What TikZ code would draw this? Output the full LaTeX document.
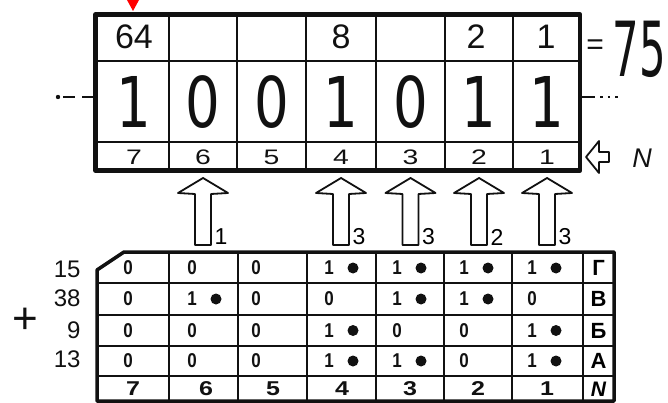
\documentclass[tikz,border=0pt]{standalone}
\usepackage{fontspec}
\usepackage{graphicx}
\setmainfont{Liberation Sans}
\newfontfamily\bigdigit{DejaVu Sans}
\usetikzlibrary{positioning, calc}
\definecolor{Ink}{HTML}{111111}

\begin{document}
\begin{tikzpicture}[x=1pt, y=-1pt, line join=round,
    regframe/.style={draw=Ink, line width=4.5pt, inner sep=0pt},
    gridline/.style={draw=Ink, line width=1.6pt},
    hollowarrow/.style={draw=Ink, line width=1.8pt, fill=white},
    wtext/.style={font=\fontsize{34}{34}\selectfont\color{Ink}},
    bittext/.style={font=\bigdigit\fontsize{70}{70}\selectfont\color{Ink}},
    postext/.style={font=\fontsize{21}{21}\selectfont\color{Ink}},
    celltext/.style={font=\bfseries\fontsize{20}{20}\selectfont\color{Ink}},
    sumtext/.style={font=\fontsize{24}{24}\selectfont\color{Ink}},
    punch/.style={circle, fill=Ink, minimum size=11pt, inner sep=0pt}]
    \useasboundingbox (0,0) rectangle (668,403);

    % register with the number 75
    \node[regframe, minimum width=484.5pt, minimum height=156pt] (reg) at (337.75,92.5) {};
    \draw[gridline] (95.5,61) -- (580,61) (95.5,142) -- (580,142);
    \foreach \x in {169,237,306,376,445,513}
        \draw[gridline] (\x,14.5) -- (\x,170.5);
    \fill[red] (127,0) -- (139,0) -- (133,11) -- cycle;

    \node[wtext] (w64) at (134,37) {64};
    \node[wtext] (w8) at (341,37) {8};
    \node[wtext] (w2) at (476,37) {2};
    \node[wtext] (w1) at (546,37) {1};

    \foreach \x/\b [count=\i] in {134/1,203/0,271.5/0,341/1,410.5/0,479/1,547/1}
        \node[bittext] (bit\i) at (\x,102) {\scalebox{0.78}[1]{\b}};
    \foreach \x/\p in {134/7,203/6,271.5/5,341/4,410.5/3,479/2,547/1}
        \node[postext] (pos\p) at (\x,157) {\scalebox{1.35}[1]{\p}};

    \node[font=\fontsize{30}{30}\selectfont\color{Ink}] (eq) at (595,47) {=};
    \node[font=\bigdigit\fontsize{76}{76}\selectfont\color{Ink}] (total) at (639,49)
        {\scalebox{0.55}[1]{75}};

    % dashed leads
    \coordinate (lend) at (63,97);
    \coordinate (rend) at (626,97);
    \fill[Ink] (58,97) circle (2.2pt);
    \draw[gridline, dash pattern=on 12pt off 7pt] (lend) -- (lend -| reg.west);
    \draw[gridline, dash pattern=on 13pt off 5pt on 2.5pt off 5pt on 2.5pt off 5pt on 2.5pt off 30pt]
        (reg.east |- rend) -- (rend);

    % N input arrow
    \draw[hollowarrow] (586,157) -- (599,141) -- (599,152) -- (609,152)
        -- (609,162) -- (599,162) -- (599,173) -- cycle;
    \node[font=\itshape\fontsize{27}{27}\selectfont\color{Ink}] (nin) at (642,158) {N};

    % carries into the register
    \foreach \x/\n [count=\i] in {203/1,341/3,410.5/3,479/2,547/3} {
        \draw[hollowarrow] (\x-8,245) -- (\x-8,194) -- (\x-25,193) -- (\x,178)
            -- (\x+25,193) -- (\x+8,194) -- (\x+8,245) -- cycle;
        \node[postext, font=\fontsize{23}{23}\selectfont] (c\i) at (\x+18,237) {\n};
    }

    % table of the four summands
    \draw[Ink, line width=3.5pt] (124,252) -- (614,252) -- (614,401) -- (97,401)
        -- (97,270) -- cycle;
    \draw[gridline] (97,283) -- (614,283) (97,315) -- (614,315)
        (97,346) -- (614,346) (97,376) -- (614,376);
    \foreach \x in {169,238,307,376,444,512,583}
        \draw[gridline] (\x,252) -- (\x,401);

    \foreach \y/\bits/\lab [count=\r] in {268/{0,0,0,1,1,1,1}/Г, 299/{0,1,0,0,1,1,0}/В,
            330.5/{0,0,0,1,0,0,1}/Б, 361/{0,0,0,1,1,0,1}/А} {
        \foreach \b [count=\c] in \bits {
            \pgfmathsetmacro\xd{{128,192,256,329,397,464,532}[\c-1]}
            \node[celltext] (v\r\c) at (\xd,\y) {\scalebox{0.85}[1]{\b}};
            \ifnum\b=1 \node[punch] (p\r\c) at (\xd+24,\y) {}; \fi
        }
        \node[celltext, font=\bfseries\fontsize{22}{22}\selectfont] (row\r) at (598.5,\y) {\lab};
    }
    \foreach \x/\p in {133/7,206/6,273/5,342/4,410/3,478/2,547/1}
        \node[celltext] (tp\p) at (\x,389) {\scalebox{1.25}[1]{\p}};
    \node[celltext, font=\bfseries\itshape\fontsize{21}{21}\selectfont] (tn) at (598.5,389) {N};

    \node[sumtext, anchor=east] (s15) at (84,269) {15};
    \node[sumtext, anchor=east] (s38) at (84,298) {38};
    \node[sumtext, anchor=east] (s9) at (84,330) {9};
    \node[sumtext, anchor=east] (s13) at (84,359) {13};
    \node[font=\fontsize{44}{44}\selectfont\color{Ink}] (plus) at (25,321) {+};
\end{tikzpicture}
\end{document}
